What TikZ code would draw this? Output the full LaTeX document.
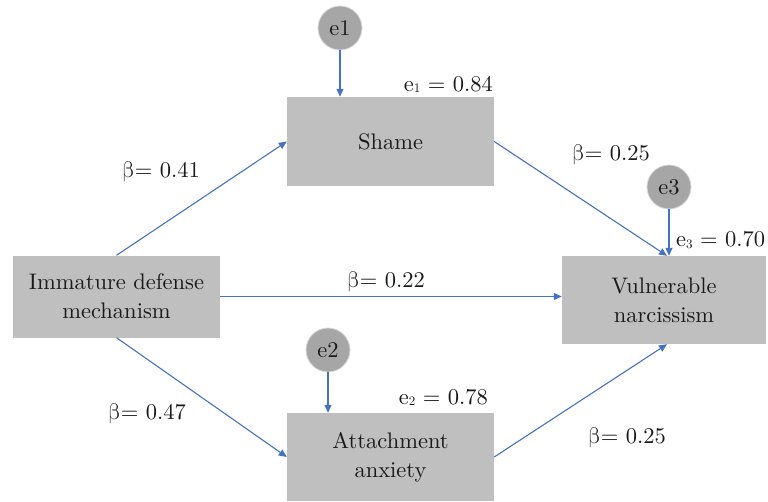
\documentclass[tikz,border=0pt]{standalone}
\usepackage{fontspec}
\usepackage{unicode-math}
\setmainfont{lmroman10-regular.otf}
\usetikzlibrary{arrows.meta}
\definecolor{boxgray}{HTML}{BFBFBF}
\definecolor{errgray}{HTML}{A6A6A6}
\definecolor{arrblue}{HTML}{4472C4}
\definecolor{txt}{HTML}{1A1A1A}
\newcommand{\sub}[1]{\raisebox{-0.05em}{\fontsize{13}{13}\selectfont #1}}
\newcommand{\bet}{$\symup{\beta}$}
\begin{document}
\begin{tikzpicture}[x=1pt,y=-1pt,
  every node/.style={font=\rmfamily\fontsize{22.5}{29}\selectfont, text=txt},
  varbox/.style={rectangle, fill=boxgray, draw=none, align=center, inner sep=0pt},
  errc/.style={circle, fill=errgray, draw=white!85!black, line width=0.8pt, minimum size=44pt, inner sep=0pt},
  path/.style={draw=arrblue, line width=1.1pt, -{Triangle[length=8pt,width=7pt]}},
  lbl/.style={inner sep=0pt}
]
\useasboundingbox (0,0) rectangle (768,501);
\node[varbox, minimum width=207pt, minimum height=82pt] (imm) at (116.5,296.5) {Immature defense\\mechanism};
\node[varbox, minimum width=207pt, minimum height=89pt] (sha) at (390.5,141.5) {Shame};
\node[varbox, minimum width=204pt, minimum height=88pt] (vul) at (664,300) {Vulnerable\\narcissism};
\node[varbox, minimum width=207pt, minimum height=88pt] (att) at (390.5,457) {Attachment\\anxiety};
\node[errc] (e1) at (340,28) {e1};
\node[errc] (e2) at (328,350) {e2};
\node[errc] (e3) at (669,187) {e3};
\draw[path] (e1) -- (e1 |- sha.north);
\draw[path] (e2) -- (e2 |- att.north);
\draw[path] (e3) -- (e3 |- vul.north);
\draw[path] (imm.north) -- (sha.west);
\draw[path] (imm.east) -- (imm.east -| vul.west);
\draw[path] (imm.south) -- (att.west);
\draw[path] (sha.east) -- ([xshift=3pt]vul.north);
\draw[path] (att.east) -- ([xshift=3pt]vul.south);
\node[lbl] (b1) at (161,172) {\bet= 0.41};
\node[lbl] (b2) at (386,282) {\bet= 0.22};
\node[lbl] (b3) at (147,414) {\bet= 0.47};
\node[lbl] (b4) at (611,155) {\bet= 0.25};
\node[lbl] (b5) at (627,438) {\bet= 0.25};
\node[lbl, anchor=east] (r1) at (493,84) {e\sub{1} = 0.84};
\node[lbl, anchor=east] (r2) at (488,397) {e\sub{2} = 0.78};
\node[lbl, anchor=west] (r3) at (676,240) {e\sub{3} = 0.70};
\end{tikzpicture}
\end{document}
